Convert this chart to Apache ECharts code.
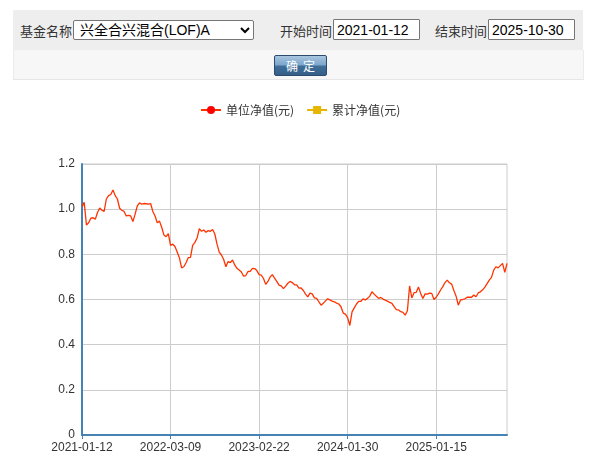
<!DOCTYPE html>
<html>
<head>
<meta charset="utf-8">
<script src="https://cdn.jsdelivr.net/npm/echarts@6/dist/echarts.min.js"></script>
<style>
  html, body { margin:0; padding:0; background:#fff; width:589px; height:470px; overflow:hidden; }
  #chart { position:absolute; left:0; top:0; width:589px; height:470px; }
  .hdr { position:absolute; font-family:"Noto Sans CJK SC", "Liberation Sans", sans-serif; z-index:2; }
  #bar1 { left:13px; top:10px; width:570px; height:40px; background:#eeeeee; }
  #bar2 { left:13px; top:50px; width:569px; height:29px; background:#f7f7f7; border-bottom:1px solid #e6e6e6; border-left:1px solid #ececec; border-right:1px solid #ececec; }
  .lbl { position:absolute; font-size:13px; color:#333; top:11px; }
  select { position:absolute; left:60px; top:10px; width:181px; height:20px; font-family:"Liberation Sans", "Noto Sans CJK SC", sans-serif; font-size:14px; color:#000; border:1px solid #767676; border-radius:2px; background:#fff; padding:0 0 0 2px; }
  input { position:absolute; top:9px; width:80px; height:17px; font-family:"Liberation Sans", sans-serif; font-size:14px; color:#000; border:1px solid #767676; padding:1px 2px 1px 3px; border-radius:1px; }
  #btn { position:absolute; left:260px; top:5px; width:51px; height:19px; border:1px solid #2d4c6d; border-radius:2px;
    background:linear-gradient(#a9c6e0 0%, #7ea7cd 45%, #3f6e99 55%, #365f87 100%); color:#fff; font-size:12px; text-align:center; line-height:19px; letter-spacing:5px; text-indent:5px; }
</style>
</head>
<body>
<div id="chart"></div>
<div id="bar1" class="hdr">
  <span class="lbl" style="left:7px;">基金名称</span>
  <select><option>兴全合兴混合(LOF)A</option></select>
  <span class="lbl" style="left:267px;">开始时间</span>
  <input style="left:320px;" value="2021-01-12">
  <span class="lbl" style="left:422px;">结束时间</span>
  <input style="left:475px;" value="2025-10-30">
</div>
<div id="bar2" class="hdr"><div id="btn">确定</div></div>
<script>
var dates = [
"2021-01-12","2021-01-23","2021-02-02","2021-02-13","2021-02-23","2021-03-06","2021-03-16","2021-03-27","2021-04-06","2021-04-17",
"2021-04-27","2021-05-08","2021-05-18","2021-05-29","2021-06-08","2021-06-19","2021-06-29","2021-07-10","2021-07-20","2021-07-31",
"2021-08-10","2021-08-21","2021-08-31","2021-09-11","2021-09-21","2021-10-02","2021-10-12","2021-10-23","2021-11-02","2021-11-13",
"2021-11-23","2021-12-04","2021-12-14","2021-12-25","2022-01-04","2022-01-15","2022-01-25","2022-02-05","2022-02-15","2022-02-26",
"2022-03-09","2022-03-18","2022-03-27","2022-04-05","2022-04-13","2022-04-22","2022-05-01","2022-05-10","2022-05-18","2022-05-27",
"2022-06-05","2022-06-14","2022-06-22","2022-07-01","2022-07-10","2022-07-19","2022-07-27","2022-08-05","2022-08-14","2022-08-23",
"2022-08-31","2022-09-09","2022-09-18","2022-09-27","2022-10-05","2022-10-14","2022-10-23","2022-11-01","2022-11-09","2022-11-18",
"2022-11-27","2022-12-06","2022-12-14","2022-12-23","2023-01-01","2023-01-10","2023-01-18","2023-01-27","2023-02-05","2023-02-14",
"2023-02-22","2023-03-03","2023-03-11","2023-03-20","2023-03-28","2023-04-06","2023-04-14","2023-04-23","2023-05-01","2023-05-10",
"2023-05-18","2023-05-27","2023-06-04","2023-06-13","2023-06-21","2023-06-30","2023-07-08","2023-07-17","2023-07-25","2023-08-03",
"2023-08-11","2023-08-20","2023-08-28","2023-09-06","2023-09-14","2023-09-23","2023-10-01","2023-10-10","2023-10-18","2023-10-27",
"2023-11-04","2023-11-13","2023-11-21","2023-11-30","2023-12-08","2023-12-17","2023-12-25","2024-01-03","2024-01-12","2024-01-21",
"2024-01-30","2024-02-08","2024-02-17","2024-02-26","2024-03-05","2024-03-14","2024-03-23","2024-04-01","2024-04-09","2024-04-18",
"2024-04-27","2024-05-06","2024-05-14","2024-05-23","2024-06-01","2024-06-10","2024-06-18","2024-06-27","2024-07-06","2024-07-15",
"2024-07-23","2024-08-01","2024-08-10","2024-08-19","2024-08-27","2024-09-05","2024-09-14","2024-09-23","2024-10-01","2024-10-10",
"2024-10-19","2024-10-28","2024-11-05","2024-11-14","2024-11-23","2024-12-02","2024-12-10","2024-12-19","2024-12-28","2025-01-06",
"2025-01-15","2025-01-24","2025-02-02","2025-02-11","2025-02-20","2025-03-01","2025-03-10","2025-03-19","2025-03-28","2025-04-06",
"2025-04-15","2025-04-24","2025-05-03","2025-05-12","2025-05-21","2025-05-30","2025-06-08","2025-06-17","2025-06-26","2025-07-05",
"2025-07-14","2025-07-23","2025-08-01","2025-08-10","2025-08-19","2025-08-28","2025-09-06","2025-09-15","2025-09-24","2025-10-03",
"2025-10-12","2025-10-21","2025-10-30"
];
var unitNav = [
1.01,1.03,0.93,0.94,0.96,0.962,0.955,0.985,1.005,0.995,
0.99,1.045,1.06,1.065,1.085,1.06,1.045,1.004,0.995,0.99,
0.97,0.973,0.97,0.945,0.978,1.015,1.028,1.022,1.025,1.024,
1.022,1.025,0.99,0.97,0.94,0.947,0.92,0.886,0.878,0.892,
0.84,0.845,0.835,0.81,0.785,0.74,0.745,0.763,0.785,0.787,
0.84,0.853,0.872,0.914,0.902,0.908,0.898,0.905,0.902,0.91,
0.89,0.845,0.81,0.797,0.777,0.745,0.768,0.763,0.775,0.753,
0.738,0.731,0.722,0.703,0.706,0.724,0.725,0.738,0.737,0.728,
0.71,0.708,0.693,0.667,0.68,0.70,0.71,0.695,0.68,0.664,
0.66,0.648,0.659,0.672,0.68,0.675,0.665,0.665,0.65,0.651,
0.64,0.624,0.612,0.628,0.625,0.607,0.605,0.59,0.575,0.583,
0.594,0.603,0.598,0.593,0.59,0.584,0.58,0.568,0.54,0.535,
0.52,0.485,0.545,0.563,0.58,0.592,0.592,0.603,0.598,0.605,
0.615,0.634,0.624,0.614,0.605,0.609,0.602,0.597,0.593,0.587,
0.583,0.568,0.555,0.554,0.546,0.543,0.531,0.55,0.66,0.607,
0.63,0.632,0.655,0.627,0.604,0.625,0.624,0.628,0.627,0.60,
0.61,0.625,0.642,0.657,0.675,0.686,0.674,0.668,0.64,0.615,
0.575,0.598,0.60,0.603,0.61,0.61,0.61,0.62,0.612,0.629,
0.634,0.643,0.655,0.67,0.686,0.698,0.73,0.745,0.74,0.75,
0.76,0.72,0.76
];
var accNav = [];
var seriesNames = ["单位净值(元)", "累计净值(元)"];

var chart = echarts.init(document.getElementById('chart'), null, {renderer:'canvas'});
chart.setOption({
  animation: false,
  textStyle: { fontFamily: '"Noto Sans CJK SC", "Liberation Sans", sans-serif' },
  legend: {
    top: 99, left: 195,
    itemWidth: 20, itemHeight: 10, itemGap: 12,
    textStyle: { fontSize: 12, color: '#333', fontFamily: '"Noto Sans CJK SC", sans-serif' },
    data: seriesNames
  },
  grid: { left: 82, top: 164, width: 425, height: 271, show: true, borderColor: '#ccc', borderWidth: 1 },
  xAxis: {
    type: 'category', data: dates, boundaryGap: false,
    axisLine: { lineStyle: { color: '#4682b4', width: 2 } },
    axisTick: { show: true, interval: 39, length: 4, lineStyle: { color: '#4682b4' } },
    axisLabel: { interval: 39, color: '#333', fontSize: 12, margin: 7, fontFamily: '"Liberation Sans", Arial, sans-serif' },
    splitLine: { show: true, interval: 39, lineStyle: { color: '#ccc' } }
  },
  yAxis: {
    type: 'value', min: 0, max: 1.2, interval: 0.2,
    axisLine: { show: true, lineStyle: { color: '#4682b4', width: 2 } },
    axisTick: { show: false },
    axisLabel: { color: '#333', fontSize: 12, margin: 7, fontFamily: '"Liberation Sans", Arial, sans-serif',
      formatter: function (v) { return v === 0 ? '0' : v.toFixed(1); } },
    splitLine: { show: true, lineStyle: { color: '#ccc' } }
  },
  series: [
    { name: seriesNames[0], type: 'line', data: unitNav, symbol: 'circle', symbolSize: 8, showSymbol: false,
      itemStyle: { color: '#ff0000' }, lineStyle: { color: '#ff3300', width: 1.3 } },
    { name: seriesNames[1], type: 'line', data: accNav, symbol: 'rect', symbolSize: 8, showSymbol: false,
      itemStyle: { color: '#e6b600' }, lineStyle: { color: '#e6b600', width: 1.3 } }
  ]
});
</script>
</body>
</html>
